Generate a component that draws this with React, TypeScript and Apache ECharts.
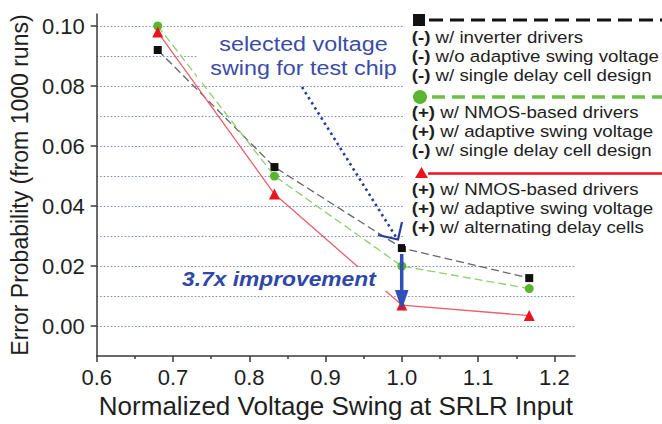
import React, { useEffect, useRef } from "react";
import * as echarts from "echarts";

// ---- data ----
const voltageSwing = [0.68, 0.833, 1.0, 1.167];
const errInverter = [0.092, 0.053, 0.026, 0.016];
const errNmosAdaptive = [0.1, 0.05, 0.02, 0.0125];
const errAlternating = [0.098, 0.044, 0.007, 0.0035];

const xTickLabels = [0.6, 0.7, 0.8, 0.9, 1.0, 1.1, 1.2];
const xMinorTicks = [0.65, 0.75, 0.85, 0.95, 1.05, 1.15];
const yTickLabels = [0, 0.02, 0.04, 0.06, 0.08, 0.1];

const seriesNames = [
  "inverter drivers, single delay cell",
  "NMOS drivers, adaptive swing",
  "NMOS drivers, adaptive swing, alternating delay cells",
];

const legendInverter = [
  ["(-)", "w/ inverter drivers"],
  ["(-)", "w/o adaptive swing voltage"],
  ["(-)", "w/ single delay cell design"],
];
const legendNmos = [
  ["(+)", "w/ NMOS-based drivers"],
  ["(+)", "w/ adaptive swing voltage"],
  ["(-)", "w/ single delay cell design"],
];
const legendAlternating = [
  ["(+)", "w/ NMOS-based drivers"],
  ["(+)", "w/ adaptive swing voltage"],
  ["(+)", "w/ alternating delay cells"],
];

const annotationLines = ["selected voltage", "swing for test chip"];
const improvementText = "3.7x improvement";

const FONT = "'Liberation Sans', Arial, Helvetica, sans-serif";
const AXIS_COLOR = "#3a3a3a";
const TEXT_COLOR = "#1e1e1e";
const BLUE = "#3b4ca6";

function legendTexts(rows: string[][], x: number, ys: number[]) {
  return rows.map((r, i) => ({
    type: "text",
    x,
    y: ys[i],
    scaleX: 1.1,
    z: 60,
    style: {
      text: `{b|${r[0]}} ${r[1]}`,
      fontSize: 17,
      fontFamily: FONT,
      fill: TEXT_COLOR,
      align: "left",
      verticalAlign: "middle",
      rich: {
        b: { fontSize: 17, fontFamily: FONT, fontWeight: "bold", fill: TEXT_COLOR },
      },
    },
  }));
}

export default function App() {
  const ref = useRef<HTMLDivElement>(null);

  useEffect(() => {
    if (!ref.current) return;
    const chart = echarts.init(ref.current, null, { renderer: "svg" });

    const tickLine = { color: AXIS_COLOR, width: 1.5 };

    const option: any = {
      animation: false,
      backgroundColor: "#fff",
      textStyle: { fontFamily: FONT },
      grid: { left: 96, width: 479, top: 14, height: 347.5 },
      xAxis: [
        {
          type: "value",
          min: 0.6,
          max: 1.227,
          interval: 0.1,
          position: "bottom",
          axisLine: { show: true, onZero: false, lineStyle: tickLine },
          axisTick: { show: true, length: 6, customValues: xTickLabels, lineStyle: tickLine },
          axisLabel: {
            customValues: xTickLabels,
            formatter: (v: number) => v.toFixed(1),
            fontSize: 22,
            color: TEXT_COLOR,
            margin: 10,
            fontFamily: FONT,
          },
          splitLine: { show: false },
          name: "Normalized Voltage Swing at SRLR Input",
          nameLocation: "middle",
          nameGap: 33,
          nameTextStyle: { fontSize: 26, color: TEXT_COLOR, fontFamily: FONT },
        },
        {
          type: "value",
          min: 0.6,
          max: 1.227,
          interval: 0.1,
          position: "bottom",
          axisLine: { show: false, onZero: false },
          axisTick: { show: true, length: 3, customValues: xMinorTicks, lineStyle: tickLine },
          axisLabel: { show: false },
          splitLine: { show: false },
        },
      ],
      yAxis: [
        {
          type: "value",
          min: -0.01,
          max: 0.104,
          interval: 0.01,
          axisLine: { show: true, onZero: false, lineStyle: tickLine },
          axisTick: { show: true, length: 6, customValues: yTickLabels, lineStyle: tickLine },
          axisLabel: {
            customValues: yTickLabels,
            formatter: (v: number) => v.toFixed(2),
            fontSize: 22,
            color: TEXT_COLOR,
            margin: 12,
            fontFamily: FONT,
          },
          splitLine: { show: false },
          name: "Error Probability (from 1000 runs)",
          nameLocation: "middle",
          nameRotate: 90,
          nameGap: 64,
          nameTextStyle: { fontSize: 23, color: TEXT_COLOR, fontFamily: FONT },
          z: 10,
        },
        {
          type: "value",
          min: -0.01,
          max: 0.104,
          interval: 0.01,
          position: "left",
          axisLine: { show: false, onZero: false },
          axisTick: { show: false },
          axisLabel: { show: false },
          splitLine: {
            show: true,
            showMinLine: false,
            showMaxLine: false,
            lineStyle: { color: "#7c84c4", type: [1.5, 2], width: 1.2 },
          },
        },
      ],
      series: [
        {
          type: "line",
          name: seriesNames[0],
          data: voltageSwing.map((x, i) => [x, errInverter[i]]),
          symbol: "rect",
          symbolSize: 8,
          itemStyle: { color: "#111" },
          lineStyle: { color: "#666", width: 1.3, type: [8, 4] },
          z: 3,
        },
        {
          type: "line",
          name: seriesNames[1],
          data: voltageSwing.map((x, i) => [x, errNmosAdaptive[i]]),
          symbol: "circle",
          symbolSize: 9,
          itemStyle: { color: "#5cb531" },
          lineStyle: { color: "#8fcf70", width: 1.3, type: [8, 4] },
          z: 4,
        },
        {
          type: "line",
          name: seriesNames[2],
          data: voltageSwing.map((x, i) => [x, errAlternating[i]]),
          symbol: "triangle",
          symbolSize: 11,
          itemStyle: { color: "#e8141e" },
          lineStyle: { color: "#e8606e", width: 1.3 },
          z: 5,
        },
      ],
      graphic: [
        // white boxes behind legend / annotations
        { type: "rect", z: 50, shape: { x: 405, y: 8, width: 257, height: 238 }, style: { fill: "#fff" } },
        { type: "rect", z: 50, shape: { x: 197, y: 31, width: 208, height: 49 }, style: { fill: "#fff" } },
        { type: "rect", z: 50, shape: { x: 180, y: 267, width: 206, height: 24 }, style: { fill: "#fff" } },
        // legend keys
        { type: "rect", z: 60, shape: { x: 413, y: 14, width: 12, height: 12 }, style: { fill: "#111" } },
        {
          type: "line",
          z: 60,
          shape: { x1: 429, y1: 20, x2: 662, y2: 20 },
          style: { stroke: "#111", lineWidth: 3, lineDash: [14, 7] },
        },
        { type: "circle", z: 60, shape: { cx: 420, cy: 97, r: 7 }, style: { fill: "#5cb531" } },
        {
          type: "line",
          z: 60,
          shape: { x1: 432, y1: 97, x2: 662, y2: 97 },
          style: { stroke: "#6cc04a", lineWidth: 3.5, lineDash: [13, 7] },
        },
        {
          type: "polygon",
          z: 60,
          shape: { points: [[421.5, 167], [415, 178], [428, 178]] },
          style: { fill: "#e8141e" },
        },
        {
          type: "line",
          z: 60,
          shape: { x1: 428, y1: 173.5, x2: 662, y2: 173.5 },
          style: { stroke: "#e8141e", lineWidth: 2.5 },
        },
        ...legendTexts(legendInverter, 411.7, [37.3, 56.5, 75.5]),
        ...legendTexts(legendNmos, 411.7, [112, 131.5, 150.5]),
        ...legendTexts(legendAlternating, 411.7, [189.5, 208.5, 227.5]),
        // annotation text
        ...annotationLines.map((t, i) => ({
          type: "text",
          x: 303.5,
          y: 44 + i * 23.5,
          scaleX: 1.11,
          z: 60,
          style: {
            text: t,
            fontSize: 21,
            fontFamily: FONT,
            fill: BLUE,
            align: "center",
            verticalAlign: "middle",
          },
        })),
        // dotted arrow
        {
          type: "line",
          z: 60,
          shape: { x1: 302, y1: 87, x2: 396, y2: 237 },
          style: { stroke: "#2a3c9c", lineWidth: 2.6, lineDash: [2.5, 3.5] },
        },
        {
          type: "polyline",
          z: 60,
          shape: { points: [[378, 235], [398, 239.5], [402, 222]] },
          style: { stroke: "#2a3c9c", lineWidth: 2.2, fill: "none" },
        },
        // improvement
        {
          type: "text",
          x: 182,
          y: 279,
          scaleX: 1.14,
          z: 60,
          style: {
            text: improvementText,
            fontSize: 20,
            fontFamily: FONT,
            fontWeight: "bold",
            fontStyle: "italic",
            fill: "#2f47a8",
            align: "left",
            verticalAlign: "middle",
          },
        },
        {
          type: "line",
          z: 60,
          shape: { x1: 401.7, y1: 254, x2: 401.7, y2: 292 },
          style: { stroke: "#2e50b8", lineWidth: 3.5 },
        },
        {
          type: "polygon",
          z: 60,
          shape: { points: [[395, 290], [408.5, 290], [401.7, 310]] },
          style: { fill: "#2e50b8" },
        },
      ],
    };

    chart.setOption(option);
    return () => chart.dispose();
  }, []);

  return (
    <div
      ref={ref}
      style={{ position: "fixed", left: 0, top: 0, width: 662, height: 424, background: "#fff" }}
    />
  );
}
